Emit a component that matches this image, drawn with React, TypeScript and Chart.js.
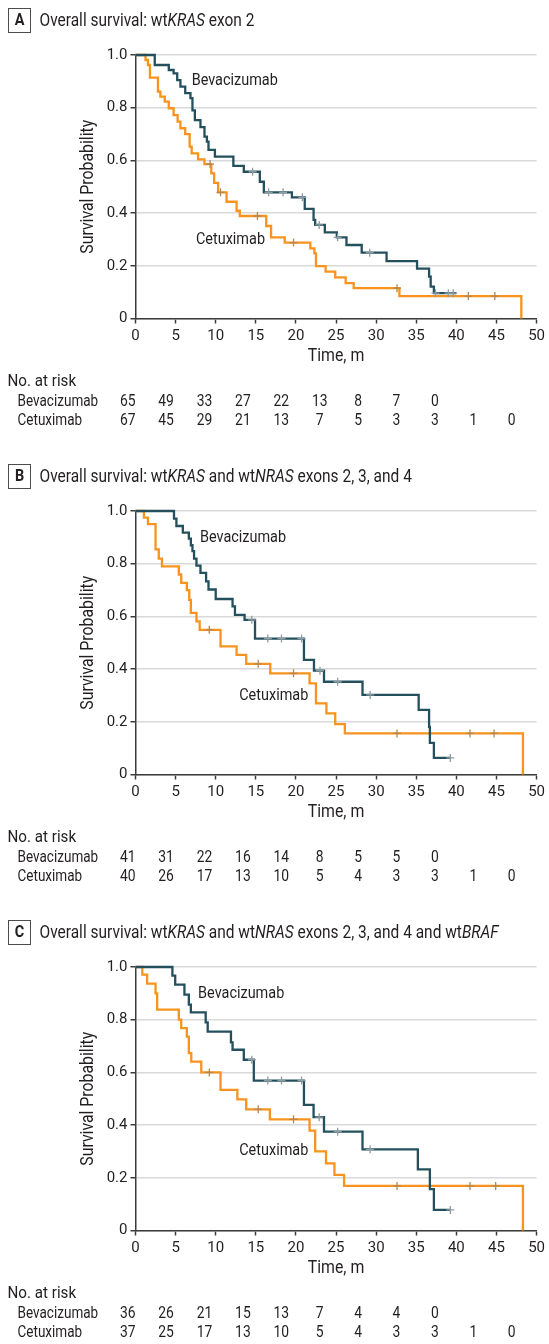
import React, { useEffect, useRef } from "react";
import { Chart, registerables } from "chart.js";

Chart.register(...registerables);

const FONT = "Roboto, 'Open Sans', sans-serif";
const DARK = "#24505e";
const ORANGE = "#f7931e";
const DARK_CENSOR = "#8e9ca3";
const ORANGE_CENSOR = "#b5864f";
const TEXT = "#231f20";
const AXIS = "#3c3c3c";
const GRID = "#d9d9d9";

// ---------- shared axis / table labels
const X_TICKS = [0, 5, 10, 15, 20, 25, 30, 35, 40, 45, 50];
const Y_TICK_LABELS = ["0", "0.2", "0.4", "0.6", "0.8", "1.0"];
const ARM_NAMES = ["Bevacizumab", "Cetuximab"];

// ---------- Panel A: wtKRAS exon 2
const A_TITLE: [string, boolean][] = [["Overall survival: wt", false], ["KRAS", true], [" exon 2", false]];
const A_BEV_TIME = [0, 2.4, 4.15, 4.75, 5.2, 5.6, 6.2, 6.85, 7.1, 7.4, 8.1, 8.6, 8.9, 9.1, 9.9, 12.2, 13.5, 15.5, 16.0, 19.5, 21.1, 22.2, 22.4, 23.6, 25.1, 26.3, 28.2, 31.3, 35.1, 36.6, 36.8, 37.2, 40.0];
const A_BEV_SURV = [1, 0.962, 0.943, 0.93, 0.905, 0.88, 0.855, 0.836, 0.79, 0.753, 0.726, 0.69, 0.671, 0.64, 0.614, 0.579, 0.557, 0.519, 0.479, 0.46, 0.416, 0.374, 0.355, 0.327, 0.308, 0.279, 0.25, 0.218, 0.189, 0.159, 0.121, 0.096, 0.096];
const A_BEV_CENSOR = [14.6, 16.6, 18.4, 20.8, 22.9, 25.2, 29.2, 37.4, 39.0, 39.6];
const A_CET_TIME = [0, 1.25, 1.55, 1.8, 2.8, 3.1, 3.65, 4.15, 4.75, 5.25, 5.6, 6.2, 6.75, 7.0, 7.8, 8.6, 9.45, 9.8, 10.3, 11.35, 12.6, 13.0, 16.3, 16.9, 18.6, 21.8, 22.3, 22.5, 23.7, 24.9, 26.2, 27.2, 32.9, 48.1];
const A_CET_SURV = [1, 0.981, 0.962, 0.914, 0.861, 0.842, 0.823, 0.798, 0.772, 0.747, 0.722, 0.7, 0.652, 0.627, 0.604, 0.586, 0.551, 0.515, 0.479, 0.443, 0.409, 0.389, 0.351, 0.308, 0.288, 0.266, 0.247, 0.199, 0.178, 0.156, 0.134, 0.115, 0.085, 0];
const A_CET_CENSOR = [9.3, 10.6, 15.2, 19.7, 32.6, 41.5, 44.8];
const A_BEV_RISK = [65, 49, 33, 27, 22, 13, 8, 7, 0];
const A_CET_RISK = [67, 45, 29, 21, 13, 7, 5, 3, 3, 1, 0];

// ---------- Panel B: wtKRAS and wtNRAS exons 2, 3, and 4
const B_TITLE: [string, boolean][] = [["Overall survival: wt", false], ["KRAS", true], [" and wt", false], ["NRAS", true], [" exons 2, 3, and 4", false]];
const B_BEV_TIME = [0, 4.8, 5.1, 5.9, 6.65, 6.9, 7.1, 7.3, 7.6, 8.1, 8.8, 9.1, 10.0, 12.1, 12.4, 13.6, 14.9, 21.0, 22.25, 23.5, 28.3, 35.3, 36.6, 36.7, 37.2, 39.25];
const B_BEV_SURV = [1, 0.971, 0.943, 0.918, 0.895, 0.87, 0.848, 0.819, 0.793, 0.765, 0.733, 0.702, 0.666, 0.638, 0.606, 0.587, 0.516, 0.435, 0.394, 0.352, 0.302, 0.245, 0.181, 0.12, 0.063, 0.063];
const B_BEV_CENSOR = [14.5, 16.5, 18.2, 20.7, 23.0, 25.2, 29.25, 39.25];
const B_CET_TIME = [0, 1.05, 1.55, 2.5, 2.9, 3.3, 5.4, 5.7, 6.4, 6.7, 6.9, 7.6, 8.0, 10.6, 12.6, 13.8, 16.8, 21.7, 22.5, 23.8, 24.9, 26.1, 48.3];
const B_CET_SURV = [1, 0.975, 0.95, 0.854, 0.819, 0.79, 0.759, 0.727, 0.7, 0.663, 0.613, 0.581, 0.549, 0.486, 0.454, 0.42, 0.384, 0.346, 0.27, 0.232, 0.191, 0.156, 0];
const B_CET_CENSOR = [9.2, 15.3, 19.7, 32.6, 41.7, 44.7];
const B_BEV_RISK = [41, 31, 22, 16, 14, 8, 5, 5, 0];
const B_CET_RISK = [40, 26, 17, 13, 10, 5, 4, 3, 3, 1, 0];

// ---------- Panel C: + wtBRAF
const C_TITLE: [string, boolean][] = [["Overall survival: wt", false], ["KRAS", true], [" and wt", false], ["NRAS", true], [" exons 2, 3, and 4 and wt", false], ["BRAF", true]];
const C_BEV_TIME = [0, 4.6, 4.95, 6.1, 6.65, 6.9, 8.75, 9.0, 11.9, 12.1, 13.5, 14.75, 21.0, 22.2, 23.5, 28.3, 35.2, 36.7, 37.2, 39.25];
const C_BEV_SURV = [1, 0.967, 0.933, 0.895, 0.857, 0.828, 0.79, 0.755, 0.714, 0.686, 0.648, 0.569, 0.477, 0.43, 0.375, 0.308, 0.232, 0.157, 0.078, 0.078];
const C_BEV_CENSOR = [14.5, 16.5, 18.2, 20.7, 22.9, 25.2, 29.25, 39.25];
const C_CET_TIME = [0, 0.85, 1.45, 2.5, 2.7, 5.4, 5.7, 6.4, 6.65, 6.95, 8.2, 10.6, 12.7, 13.8, 16.75, 21.7, 22.4, 23.75, 24.8, 26.0, 48.3];
const C_CET_SURV = [1, 0.971, 0.937, 0.9, 0.838, 0.8, 0.768, 0.736, 0.673, 0.641, 0.6, 0.534, 0.498, 0.46, 0.422, 0.379, 0.3, 0.255, 0.211, 0.169, 0];
const C_CET_CENSOR = [9.2, 15.3, 19.7, 32.6, 41.7, 44.9];
const C_BEV_RISK = [36, 26, 21, 15, 13, 7, 4, 4, 0];
const C_CET_RISK = [37, 25, 17, 13, 10, 5, 4, 3, 3, 1, 0];

// in-plot arm label anchors, in data units [time, survival]
const A_LABELS: [number, number][] = [[7.0, 0.902], [7.53, 0.298]];
const B_LABELS: [number, number][] = [[8.03, 0.9], [12.93, 0.3]];
const C_LABELS: [number, number][] = [[7.8, 0.899], [12.93, 0.302]];

function survAt(times: number[], surv: number[], t: number) {
  let s = surv[0];
  for (let i = 0; i < times.length; i++) {
    if (times[i] <= t) s = surv[i];
    else break;
  }
  return s;
}

// draw horizontally condensed text (the reference uses a narrow face)
function condText(ctx: CanvasRenderingContext2D, txt: string, x: number, y: number, sx: number, align: CanvasTextAlign) {
  ctx.save();
  ctx.translate(x, y);
  ctx.scale(sx, 1);
  ctx.textAlign = align;
  ctx.fillText(txt, 0, 0);
  ctx.restore();
}

type PanelProps = {
  letter: string;
  title: [string, boolean][];
  bevTime: number[];
  bevSurv: number[];
  bevCensor: number[];
  cetTime: number[];
  cetSurv: number[];
  cetCensor: number[];
  bevRisk: number[];
  cetRisk: number[];
  labels: [number, number][];
  top: number;
  height: number;
};

function KMPanel(p: PanelProps) {
  const ref = useRef<HTMLCanvasElement>(null);
  useEffect(() => {
    const canvas = ref.current;
    if (!canvas) return;
    const overlay = {
      id: "overlay" + p.letter,
      afterDraw(chart: any) {
        const ctx = chart.ctx as CanvasRenderingContext2D;
        const area = chart.chartArea;
        const xs = chart.scales.x;
        const ys = chart.scales.y;
        ctx.save();
        ctx.fillStyle = TEXT;
        ctx.textBaseline = "middle";
        // panel letter box
        ctx.strokeStyle = "#4d4d4d";
        ctx.lineWidth = 1;
        ctx.strokeRect(8.5, 8.5, 22, 24);
        ctx.font = `bold 16px ${FONT}`;
        condText(ctx, p.letter, 19.5, 21, 0.9, "center");
        // title with italic gene names
        const TS = 0.86;
        let x = 39.5;
        for (const [txt, it] of p.title) {
          ctx.font = `${it ? "italic " : ""}18px ${FONT}`;
          condText(ctx, txt, x, 21, TS, "left");
          x += ctx.measureText(txt).width * TS;
        }
        // axis titles
        ctx.font = `18px ${FONT}`;
        ctx.save();
        ctx.translate(88, (area.top + area.bottom) / 2);
        ctx.rotate(-Math.PI / 2);
        condText(ctx, "Survival Probability", 0, 0, 0.88, "center");
        ctx.restore();
        condText(ctx, "Time, m", (area.left + area.right) / 2, 356, 0.88, "center");
        // arm labels inside plot
        ctx.font = `17px ${FONT}`;
        p.labels.forEach((lab, i) => {
          condText(ctx, ARM_NAMES[i], xs.getPixelForValue(lab[0]), ys.getPixelForValue(lab[1]), 0.85, "left");
        });
        // risk table
        const RS = 0.84;
        ctx.font = `16.5px ${FONT}`;
        condText(ctx, "No. at risk", 7.5, 382, 0.92, "left");
        condText(ctx, ARM_NAMES[0], 17.5, 401.5, 0.82, "left");
        condText(ctx, ARM_NAMES[1], 17.5, 421, 0.82, "left");
        p.bevRisk.forEach((n, i) => condText(ctx, String(n), 127.7 + 38.4 * i, 401.5, RS, "center"));
        p.cetRisk.forEach((n, i) => condText(ctx, String(n), 127.7 + 38.4 * i, 421, RS, "center"));
        ctx.restore();
      },
    };
    const chart = new Chart(canvas, {
      type: "line",
      data: {
        datasets: [
          {
            type: "scatter",
            label: "Bevacizumab censored",
            data: p.bevCensor.map((t) => ({ x: t, y: survAt(p.bevTime, p.bevSurv, t) })),
            pointStyle: "cross",
            pointRadius: 4,
            pointBorderWidth: 1.3,
            borderColor: DARK_CENSOR,
            backgroundColor: DARK_CENSOR,
            showLine: false,
            clip: false,
          } as any,
          {
            type: "scatter",
            label: "Cetuximab censored",
            data: p.cetCensor.map((t) => ({ x: t, y: survAt(p.cetTime, p.cetSurv, t) })),
            pointStyle: "cross",
            pointRadius: 4,
            pointBorderWidth: 1.3,
            borderColor: ORANGE_CENSOR,
            backgroundColor: ORANGE_CENSOR,
            showLine: false,
            clip: false,
          } as any,
          {
            label: ARM_NAMES[0],
            data: p.bevTime.map((t, i) => ({ x: t, y: p.bevSurv[i] })),
            stepped: "before",
            borderColor: DARK,
            borderWidth: 2.3,
            pointRadius: 0,
            fill: false,
            clip: false,
          } as any,
          {
            label: ARM_NAMES[1],
            data: p.cetTime.map((t, i) => ({ x: t, y: p.cetSurv[i] })),
            stepped: "before",
            borderColor: ORANGE,
            borderWidth: 2.3,
            pointRadius: 0,
            fill: false,
            clip: false,
          } as any,
        ],
      },
      options: {
        responsive: false,
        animation: false,
        devicePixelRatio: 1,
        layout: { padding: { left: 0, right: 12, top: 55, bottom: p.height - 318.5 - 30 } },
        plugins: { legend: { display: false }, tooltip: { enabled: false }, title: { display: false } },
        scales: {
          x: {
            type: "linear",
            min: X_TICKS[0],
            max: X_TICKS[X_TICKS.length - 1],
            afterFit: (s: any) => {
              s.height = 30;
            },
            afterBuildTicks: (s: any) => {
              s.ticks = X_TICKS.map((v) => ({ value: v }));
            },
            ticks: {
              font: { family: FONT, size: 15 },
              color: TEXT,
              padding: 4,
              maxRotation: 0,
              autoSkip: false,
              callback: (v: any) => String(v),
            },
            grid: { drawOnChartArea: false, drawTicks: true, tickLength: 5, tickColor: AXIS, tickWidth: 1.5 },
            border: { display: true, color: AXIS, width: 1.5 },
          },
          y: {
            type: "linear",
            min: 0,
            max: 1,
            afterFit: (s: any) => {
              s.width = 135.5;
            },
            afterBuildTicks: (s: any) => {
              s.ticks = Y_TICK_LABELS.map((l) => ({ value: parseFloat(l) }));
            },
            ticks: {
              font: { family: FONT, size: 15 },
              color: TEXT,
              padding: 3,
              callback: (v: any, i: number) => Y_TICK_LABELS[i],
            },
            grid: { color: GRID, lineWidth: 1.5, drawTicks: true, tickLength: 5, tickColor: AXIS, tickWidth: 1.5 },
            border: { display: true, color: AXIS, width: 1.5 },
          },
        },
      } as any,
      plugins: [overlay],
    });
    return () => chart.destroy();
  }, []);
  return (
    <div style={{ position: "absolute", left: 0, top: p.top, width: 549, height: p.height }}>
      <canvas ref={ref} width={549} height={p.height} style={{ display: "block", width: 549, height: p.height }} />
    </div>
  );
}

export default function App() {
  return (
    <div style={{ position: "absolute", left: 0, top: 0, width: 549, height: 1344, background: "#fff" }}>
      <KMPanel letter="A" title={A_TITLE} bevTime={A_BEV_TIME} bevSurv={A_BEV_SURV} bevCensor={A_BEV_CENSOR}
        cetTime={A_CET_TIME} cetSurv={A_CET_SURV} cetCensor={A_CET_CENSOR} bevRisk={A_BEV_RISK} cetRisk={A_CET_RISK}
        labels={A_LABELS} top={0} height={456} />
      <KMPanel letter="B" title={B_TITLE} bevTime={B_BEV_TIME} bevSurv={B_BEV_SURV} bevCensor={B_BEV_CENSOR}
        cetTime={B_CET_TIME} cetSurv={B_CET_SURV} cetCensor={B_CET_CENSOR} bevRisk={B_BEV_RISK} cetRisk={B_CET_RISK}
        labels={B_LABELS} top={456} height={456} />
      <KMPanel letter="C" title={C_TITLE} bevTime={C_BEV_TIME} bevSurv={C_BEV_SURV} bevCensor={C_BEV_CENSOR}
        cetTime={C_CET_TIME} cetSurv={C_CET_SURV} cetCensor={C_CET_CENSOR} bevRisk={C_BEV_RISK} cetRisk={C_CET_RISK}
        labels={C_LABELS} top={912} height={432} />
    </div>
  );
}
